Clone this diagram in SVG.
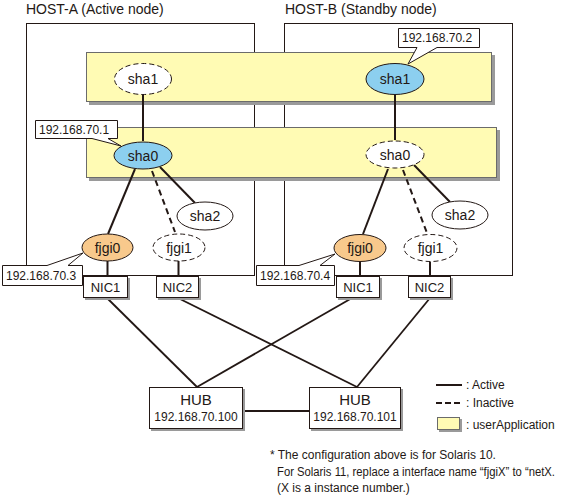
<svg xmlns="http://www.w3.org/2000/svg" width="576" height="497" viewBox="0 0 576 497">
<style>
text{font-family:"Liberation Sans",Arial,sans-serif;fill:#231815}
.t{font-size:14px}
.n{font-size:14px;text-anchor:middle}
.ip{font-size:12px}
.nic{font-size:13px;text-anchor:middle}
.host{fill:none;stroke:#231815;stroke-width:1}
.band{fill:#FFFBB4;stroke:#6b6b6b;stroke-width:1}
.shadow{fill:#9a9a9a}
.box{fill:#fff;stroke:#231815;stroke-width:1}
.blue{fill:#8CCFEF;stroke:#231815;stroke-width:1}
.orange{fill:#F8C98C;stroke:#231815;stroke-width:1}
.white{fill:#fff;stroke:#231815;stroke-width:1}
.dash{fill:#fff;stroke:#231815;stroke-width:1;stroke-dasharray:5,3}
.ln{stroke:#231815;stroke-width:2;fill:none}
.dl{stroke:#231815;stroke-width:2;fill:none;stroke-dasharray:6,4}
.ln2{stroke:#231815;stroke-width:1.8;fill:none}
</style>

<g id="host-a">
<text class="t" x="26" y="13.5">HOST-A (Active node)</text>
<rect class="host" x="26.5" y="23.5" width="228" height="252"/>
</g>
<g id="host-b">
<text class="t" x="285" y="13.5">HOST-B (Standby node)</text>
<rect class="host" x="284.5" y="23.5" width="228" height="252"/>
</g>

<g id="userapp-1">
<rect class="shadow" x="89" y="55" width="406" height="50"/>
<rect class="band" x="86.5" y="52.5" width="405" height="49"/>
</g>
<g id="userapp-2">
<rect class="shadow" x="89" y="130" width="411" height="51"/>
<rect class="band" x="86.5" y="127.5" width="410" height="50"/>
</g>

<g id="connectors">
<line class="ln" x1="143" y1="94" x2="143" y2="141"/>
<line class="ln" x1="395" y1="94" x2="395" y2="140"/>
<line class="ln" x1="135" y1="169" x2="108" y2="234"/>
<line class="dl" x1="152" y1="171" x2="175" y2="232"/>
<line class="ln" x1="160" y1="167" x2="195" y2="203"/>
<line class="ln" x1="107.5" y1="261" x2="107.5" y2="276"/>
<line class="ln" x1="178.5" y1="261" x2="178.5" y2="276"/>
<line class="ln" x1="388" y1="169" x2="363" y2="234"/>
<line class="dl" x1="403" y1="170" x2="427" y2="233"/>
<line class="ln" x1="414" y1="165" x2="450" y2="202"/>
<line class="ln" x1="360" y1="262" x2="360" y2="276"/>
<line class="ln" x1="430" y1="262" x2="430" y2="276"/>
<line class="ln2" x1="107" y1="298" x2="197" y2="387"/>
<line class="ln2" x1="178" y1="298" x2="357" y2="387"/>
<line class="ln2" x1="352" y1="298" x2="197" y2="387"/>
<line class="ln2" x1="430" y1="298" x2="357" y2="387"/>
<line class="ln" x1="242" y1="411" x2="309" y2="411"/>
</g>

<g id="a-sha1">
<ellipse class="dash" cx="143" cy="79" rx="28.5" ry="15.5"/>
<text class="n" x="143" y="84">sha1</text>
</g>
<g id="b-sha1">
<ellipse class="blue" cx="395" cy="79" rx="29" ry="15.5"/>
<text class="n" x="395" y="84">sha1</text>
</g>
<g id="a-sha0">
<ellipse class="blue" cx="143" cy="155.5" rx="29" ry="13.5"/>
<text class="n" x="143" y="160.5">sha0</text>
</g>
<g id="b-sha0">
<ellipse class="dash" cx="395" cy="154.5" rx="29" ry="13.5"/>
<text class="n" x="395" y="159.5">sha0</text>
</g>
<g id="a-sha2">
<ellipse class="white" cx="205" cy="216" rx="28" ry="14"/>
<text class="n" x="205" y="221">sha2</text>
</g>
<g id="b-sha2">
<ellipse class="white" cx="460" cy="215" rx="28" ry="14"/>
<text class="n" x="460" y="220">sha2</text>
</g>
<g id="a-fjgi0">
<ellipse class="orange" cx="107.5" cy="247.5" rx="25.5" ry="13.5"/>
<text class="n" x="107.5" y="252.5">fjgi0</text>
</g>
<g id="a-fjgi1">
<ellipse class="dash" cx="179" cy="247.5" rx="26" ry="13.5"/>
<text class="n" x="179" y="252.5">fjgi1</text>
</g>
<g id="b-fjgi0">
<ellipse class="orange" cx="360" cy="248" rx="26" ry="13.5"/>
<text class="n" x="360" y="253">fjgi0</text>
</g>
<g id="b-fjgi1">
<ellipse class="dash" cx="430.5" cy="248" rx="26.5" ry="13.5"/>
<text class="n" x="430.5" y="253">fjgi1</text>
</g>

<g id="a-nic1">
<rect class="shadow" x="85" y="278" width="45" height="22"/>
<rect class="box" x="83.5" y="276.5" width="44" height="21"/>
<text class="nic" x="105.5" y="292">NIC1</text>
</g>
<g id="a-nic2">
<rect class="shadow" x="158" y="278" width="43" height="22"/>
<rect class="box" x="156.5" y="276.5" width="42" height="21"/>
<text class="nic" x="177.5" y="292">NIC2</text>
</g>
<g id="b-nic1">
<rect class="shadow" x="338" y="278" width="44" height="22"/>
<rect class="box" x="336.5" y="276.5" width="43" height="21"/>
<text class="nic" x="358" y="292">NIC1</text>
</g>
<g id="b-nic2">
<rect class="shadow" x="410" y="278" width="43" height="22"/>
<rect class="box" x="408.5" y="276.5" width="42" height="21"/>
<text class="nic" x="429.5" y="292">NIC2</text>
</g>

<g id="ip-70-2">
<path class="box" d="M398.5,28.5 H479.5 V47.5 H437 L408,64 L417,47.5 H398.5 Z"/>
<text class="ip" x="402" y="42">192.168.70.2</text>
</g>
<g id="ip-70-1">
<path class="box" d="M35.5,120.5 H117.5 V138.5 H108 L121,146 L92,138.5 H35.5 Z"/>
<text class="ip" x="39" y="134">192.168.70.1</text>
</g>
<g id="ip-70-3">
<path class="box" d="M2.5,265.5 H47 L83,253 L68,265.5 H82.5 V285.5 H2.5 Z"/>
<text class="ip" x="6" y="280">192.168.70.3</text>
</g>
<g id="ip-70-4">
<path class="box" d="M256.5,265.5 H299 L335,254 L320,265.5 H334.5 V285.5 H256.5 Z"/>
<text class="ip" x="260" y="280">192.168.70.4</text>
</g>

<g id="hub-1">
<rect class="shadow" x="151" y="389" width="94" height="42"/>
<rect class="box" x="149.5" y="387.5" width="93" height="41"/>
<text x="196" y="405" style="font-size:15px;text-anchor:middle">HUB</text>
<text x="196" y="421" style="font-size:12px;text-anchor:middle">192.168.70.100</text>
</g>
<g id="hub-2">
<rect class="shadow" x="311" y="389" width="92" height="42"/>
<rect class="box" x="309.5" y="387.5" width="91" height="41"/>
<text x="355" y="405" style="font-size:15px;text-anchor:middle">HUB</text>
<text x="355" y="421" style="font-size:12px;text-anchor:middle">192.168.70.101</text>
</g>

<g id="legend">
<line class="ln" x1="436" y1="385" x2="462" y2="385"/>
<text x="466" y="389" style="font-size:12px">: Active</text>
<line class="dl" x1="436" y1="403" x2="462" y2="403" style="stroke-dasharray:6,3"/>
<text x="466" y="407" style="font-size:12px">: Inactive</text>
<rect class="shadow" x="439" y="419" width="23" height="13"/>
<rect class="band" x="437.5" y="417.5" width="22" height="12"/>
<text x="466" y="429" style="font-size:12px">: userApplication</text>
</g>

<g id="note">
<text x="270" y="459" style="font-size:12px">* The configuration above is for Solaris 10.</text>
<text x="277" y="476" style="font-size:12px" textLength="278" lengthAdjust="spacingAndGlyphs">For Solaris 11, replace a interface name “fjgiX” to “netX.</text>
<text x="277" y="492" style="font-size:12px">(X is a instance number.)</text>
</g>
</svg>
